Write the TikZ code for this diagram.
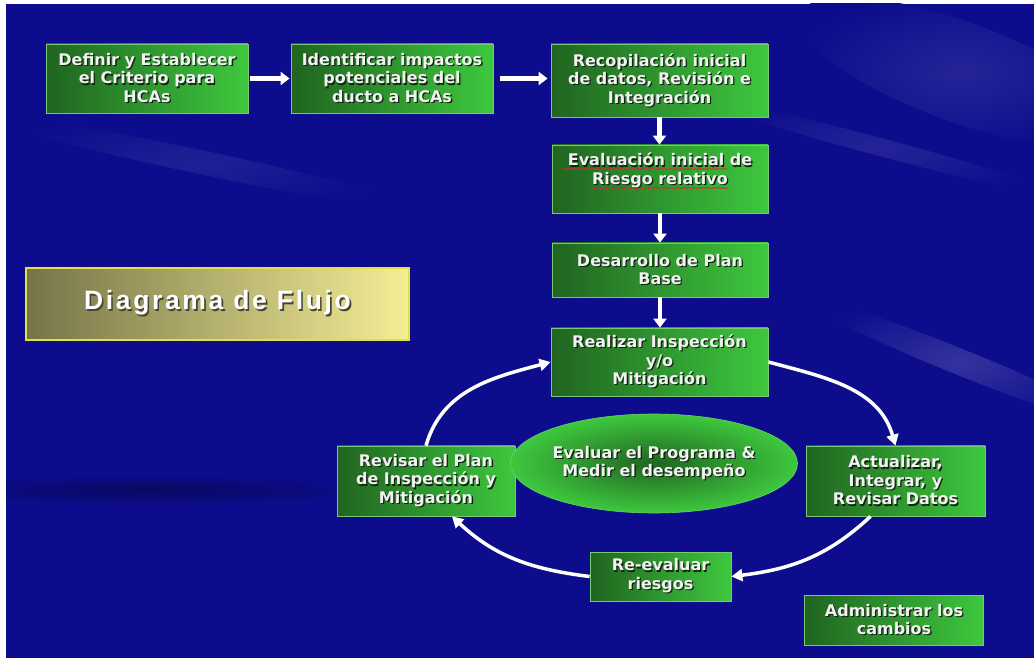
\documentclass[tikz,border=0pt]{standalone}
\usepackage{fontspec}
\setmainfont{DejaVu Sans}
\newfontfamily\titlefont[LetterSpace=10]{Liberation Sans}
\usetikzlibrary{arrows.meta,shapes.geometric,decorations.pathmorphing}

\definecolor{bgblue}{RGB}{12,12,140}
\definecolor{boxdark}{RGB}{32,100,32}
\definecolor{boxlight}{RGB}{62,200,62}
\definecolor{boxedge}{RGB}{120,200,120}
\definecolor{txtwhite}{RGB}{242,242,242}
\definecolor{txtshadow}{RGB}{15,35,15}
\definecolor{oliveL}{RGB}{118,116,72}
\definecolor{oliveR}{RGB}{244,238,150}
\definecolor{titleedge}{RGB}{225,225,70}
\definecolor{titleshadow}{RGB}{70,70,50}
\definecolor{spellred}{RGB}{220,40,40}

% text with a small dark drop shadow
\newcommand\shd[1]{\leavevmode\rlap{\kern1.3pt\raisebox{-1.3pt}{\color{txtshadow}#1}}#1}
\newcommand\tshd[1]{\leavevmode\rlap{\kern1.6pt\raisebox{-1.6pt}{\color{titleshadow}#1}}#1}

\tikzset{
  boxtext/.style={text=txtwhite, font=\bfseries\fontsize{16}{18.5}\selectfont,
    align=center, inner sep=0pt},
  stepbox/.style={boxtext, draw=boxedge, line width=0.8pt,
    left color=boxdark, right color=boxlight},
  evalell/.style={boxtext, ellipse, draw=boxlight!80!white, line width=0.6pt,
    inner color=boxdark, outer color=boxlight},
  titlebox/.style={draw=titleedge, line width=1.5pt, left color=oliveL,
    right color=oliveR, text=white, inner sep=0pt,
    font=\titlefont\bfseries\fontsize{26.5}{30}\selectfont},
  flowarrow/.style={draw=white, line width=4.5pt,
    -{Triangle[length=9pt,width=13pt]}},
  cyclearrow/.style={draw=white, line width=3.5pt,
    -{Triangle[length=11pt,width=12pt]}},
  squiggle/.style={draw=spellred, line width=0.6pt, decorate,
    decoration={snake, amplitude=0.7pt, segment length=3pt}},
}

\begin{document}
\begin{tikzpicture}[x=1pt,y=1pt]
  % page and background
  \fill[white] (0,0) rectangle (1034,662);
  \useasboundingbox (0,0) rectangle (1034,662);
  \fill[bgblue] (6,4) rectangle (1034,658);
  \begin{scope}
    \clip (6,4) rectangle (1034,658);
    \shade[inner color=bgblue!90!white, outer color=bgblue, rotate around={-20:(960,590)}]
      (960,590) ellipse [x radius=170, y radius=50];
    \shade[inner color=bgblue!84!white, outer color=bgblue, rotate around={-22:(960,300)}]
      (960,300) ellipse [x radius=170, y radius=13];
    \shade[inner color=bgblue!90!white, outer color=bgblue, rotate around={-15:(880,515)}]
      (880,515) ellipse [x radius=190, y radius=9];
    \shade[inner color=bgblue!92!white, outer color=bgblue, rotate around={-12:(200,500)}]
      (200,500) ellipse [x radius=220, y radius=12];
    \shade[inner color=bgblue!68!black, outer color=bgblue]
      (150,172) ellipse [x radius=230, y radius=15];
  \end{scope}

  % title
  \node[titlebox, minimum width=383pt, minimum height=72pt] (title) at (217.5,358)
    {\tshd{Diagrama de Flujo}};

  % top row and main column
  \node[stepbox, minimum width=202pt, minimum height=69pt] (b1) at (147,583.5)
    {\shd{Definir y Establecer}\\\shd{el Criterio para}\\\shd{HCAs}};
  \node[stepbox, minimum width=202pt, minimum height=69pt] (b2) at (392,583.5)
    {\shd{Identificar impactos}\\\shd{potenciales del}\\\shd{ducto a HCAs}};
  \node[stepbox, minimum width=217pt, minimum height=73pt] (b3) at (659.5,581.5)
    {\shd{Recopilación inicial}\\\shd{de datos, Revisión e}\\\shd{Integración}};
  \node[stepbox, minimum width=216pt, minimum height=68pt] (b4) at (660,483) {};
  \node[boxtext] (b4t) at ([yshift=8pt]b4.center)
    {\shd{Evaluación inicial de}\\\shd{Riesgo relativo}};
  \draw[squiggle] ([shift={(-98pt,10pt)}]b4.center) -- ([shift={(67pt,10pt)}]b4.center);
  \draw[squiggle] ([shift={(-68pt,-9pt)}]b4.center) -- ([shift={(68pt,-9pt)}]b4.center);
  \node[stepbox, minimum width=216pt, minimum height=54pt] (b5) at (660,392)
    {\shd{Desarrollo de Plan}\\\shd{Base}};
  \node[stepbox, minimum width=217pt, minimum height=68pt] (b6) at (659.5,300)
    {\shd{Realizar Inspección}\\\shd{y/o}\\\shd{Mitigación}};

  % cycle
  \node[stepbox, minimum width=178pt, minimum height=70pt] (rev) at (426,181)
    {\shd{Revisar el Plan}\\\shd{de Inspección y}\\\shd{Mitigación}};
  \node[stepbox, minimum width=179pt, minimum height=70pt] (act) at (895.5,181)
    {\shd{Actualizar,}\\\shd{Integrar, y}\\\shd{Revisar Datos}};
  \node[stepbox, minimum width=141pt, minimum height=49pt] (reev) at (660.5,85.5)
    {\shd{Re-evaluar}\\\shd{riesgos}};
  \node[evalell, minimum width=258pt, minimum height=99pt] (eval) at (654,198.5)
    {\shd{Evaluar el Programa \&}\\\shd{Medir el desempeño}};
  \node[stepbox, minimum width=179pt, minimum height=50pt] (adm) at (894,42)
    {\shd{Administrar los}\\\shd{cambios}};

  % straight connectors
  \draw[flowarrow, shorten <=2pt, shorten >=1pt] (b1.east) -- (b1.east -| b2.west);
  \draw[flowarrow, shorten <=7pt, shorten >=3pt] (b2.east) -- (b2.east -| b3.west);
  \draw[flowarrow] (b3.south) -- (b3.south |- b4.north);
  \draw[flowarrow] (b4.south) -- (b4.south |- b5.north);
  \draw[flowarrow] (b5.south) -- (b5.south |- b6.north);

  % cycle connectors
  \draw[cyclearrow] (b6.east) to[out=-15, in=106] (act.north);
  \draw[cyclearrow] ([xshift=-25pt]act.south) to[out=223, in=7] (reev.east);
  \draw[cyclearrow] (reev.west) to[out=173, in=-43] ([xshift=26pt]rev.south);
  \draw[cyclearrow] (rev.north) to[out=74, in=195] (b6.west);
\end{tikzpicture}
\end{document}
